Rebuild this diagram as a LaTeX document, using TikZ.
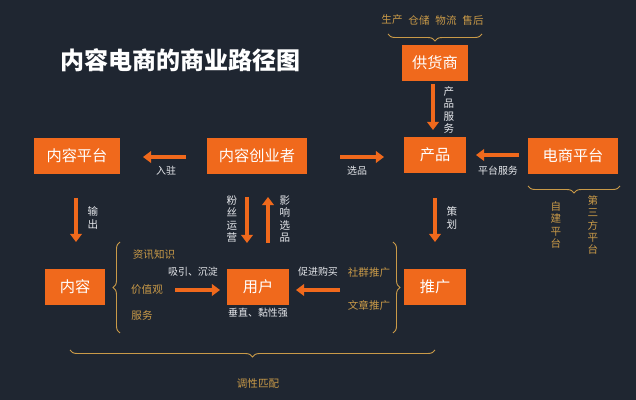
\documentclass[tikz,border=0pt]{standalone}
\usepackage{fontspec}
\setmainfont{Noto Sans CJK SC}
\usetikzlibrary{arrows.meta,decorations.pathreplacing}
\definecolor{bg}{HTML}{1F2631}
\definecolor{org}{HTML}{F0691C}
\definecolor{gold}{HTML}{C99A48}
\definecolor{lbl}{HTML}{E6E8EC}
\tikzset{
 box/.style={fill=org,text=white,font=\fontsize{13}{15}\selectfont,inner sep=0pt,minimum height=30pt},
 arr/.style={draw=org,line width=3.4pt,-{Triangle[length=7pt,width=10pt]}},
 wl/.style={text=lbl,font=\fontsize{8.5}{9.5}\selectfont,inner sep=0pt},
 gl/.style={text=gold,font=\fontsize{9}{10}\selectfont,inner sep=0pt},
 vt/.style={align=center,font=\fontsize{9}{10.5}\selectfont,inner sep=0pt},
 br/.style={draw=gold,line width=0.8pt,decorate,decoration={brace,amplitude=6pt}}
}
\begin{document}
\begin{tikzpicture}[x=0.03cm,y=-0.03cm]
\fill[bg] (0,0) rectangle (636,400);
\node[text=white,font=\bfseries\fontsize{20.5}{22}\selectfont,anchor=west,inner sep=0pt] (title) at (60,60) {内容电商的商业路径图};
\node[box,minimum width=56pt] (ghs) at (435,63) {供货商};
\node[box,minimum width=53pt] (cp) at (435,155) {产品};
\node[box,minimum width=77pt] (ds) at (573,156) {电商平台};
\node[box,minimum width=74pt] (nrpt) at (77,156) {内容平台};
\node[box,minimum width=85pt] (cyz) at (257,156) {内容创业者};
\node[box,minimum width=51pt] (nr) at (75,287) {内容};
\node[box,minimum width=53pt] (yh) at (258,287) {用户};
\node[box,minimum width=53pt] (tg) at (435,287) {推广};
% arrows
\coordinate (a1) at (433,84); \coordinate (a2) at (433,130);
\draw[arr] (a1) -- (a2);
\node[vt,text=lbl] (l1) at (449,110) {产\\品\\服\\务};
\coordinate (b1) at (519,155); \coordinate (b2) at (476,155);
\draw[arr] (b1) -- (b2);
\node[wl] (l2) at (498,171) {平台服务};
\coordinate (c1) at (340,157); \coordinate (c2) at (384,157);
\draw[arr] (c1) -- (c2);
\node[wl] (l3) at (357,171) {选品};
\coordinate (d1) at (186,157); \coordinate (d2) at (143,157);
\draw[arr] (d1) -- (d2);
\node[wl] (l4) at (166,171) {入驻};
\coordinate (e1) at (76,198); \coordinate (e2) at (76,242);
\draw[arr] (e1) -- (e2);
\node[vt,text=lbl] (l5) at (93,218) {输\\出};
\coordinate (f1) at (435,198); \coordinate (f2) at (435,242);
\draw[arr] (f1) -- (f2);
\node[vt,text=lbl] (l6) at (452,218) {策\\划};
\coordinate (g1) at (247,197); \coordinate (g2) at (247,243);
\draw[arr] (g1) -- (g2);
\node[vt,text=lbl] (l7) at (232,219) {粉\\丝\\运\\营};
\coordinate (h1) at (268,243); \coordinate (h2) at (268,197);
\draw[arr] (h1) -- (h2);
\node[vt,text=lbl] (l8) at (285,219) {影\\响\\选\\品};
\coordinate (i1) at (175,290); \coordinate (i2) at (220,290);
\draw[arr] (i1) -- (i2);
\coordinate (j1) at (340,290); \coordinate (j2) at (296,290);
\draw[arr] (j1) -- (j2);
\node[wl] (l9) at (193,272) {吸引、沉淀};
\node[wl] (l10) at (258,313) {垂直、黏性强};
\node[wl] (l11) at (318,272) {促进购买};
\node[gl] (l12) at (369,273) {社群推广};
\node[gl] (l13) at (369,305) {文章推广};
\node[gl] (l14) at (154,255) {资讯知识};
\node[gl] (l15) at (147,290) {价值观};
\node[gl] (l16) at (142,315) {服务};
% braces
\draw[br] (120,333) -- (120,242);
\draw[br] (393,242) -- (393,333);
\draw[br] (435,350) -- (70,350);
\node[gl] (l17) at (258,383) {调性匹配};
\draw[br] (482,34) -- (388,34);
\node[gl] (s1) at (392,20) {生产};
\node[gl] (s2) at (419,20) {仓储};
\node[gl] (s3) at (446,20) {物流};
\node[gl] (s4) at (473,20) {售后};
\draw[br] (620,186) -- (528,186);
\node[vt,text=gold] (l18) at (556,225) {自\\建\\平\\台};
\node[vt,text=gold] (l19) at (593,225) {第\\三\\方\\平\\台};
\end{tikzpicture}
\end{document}
